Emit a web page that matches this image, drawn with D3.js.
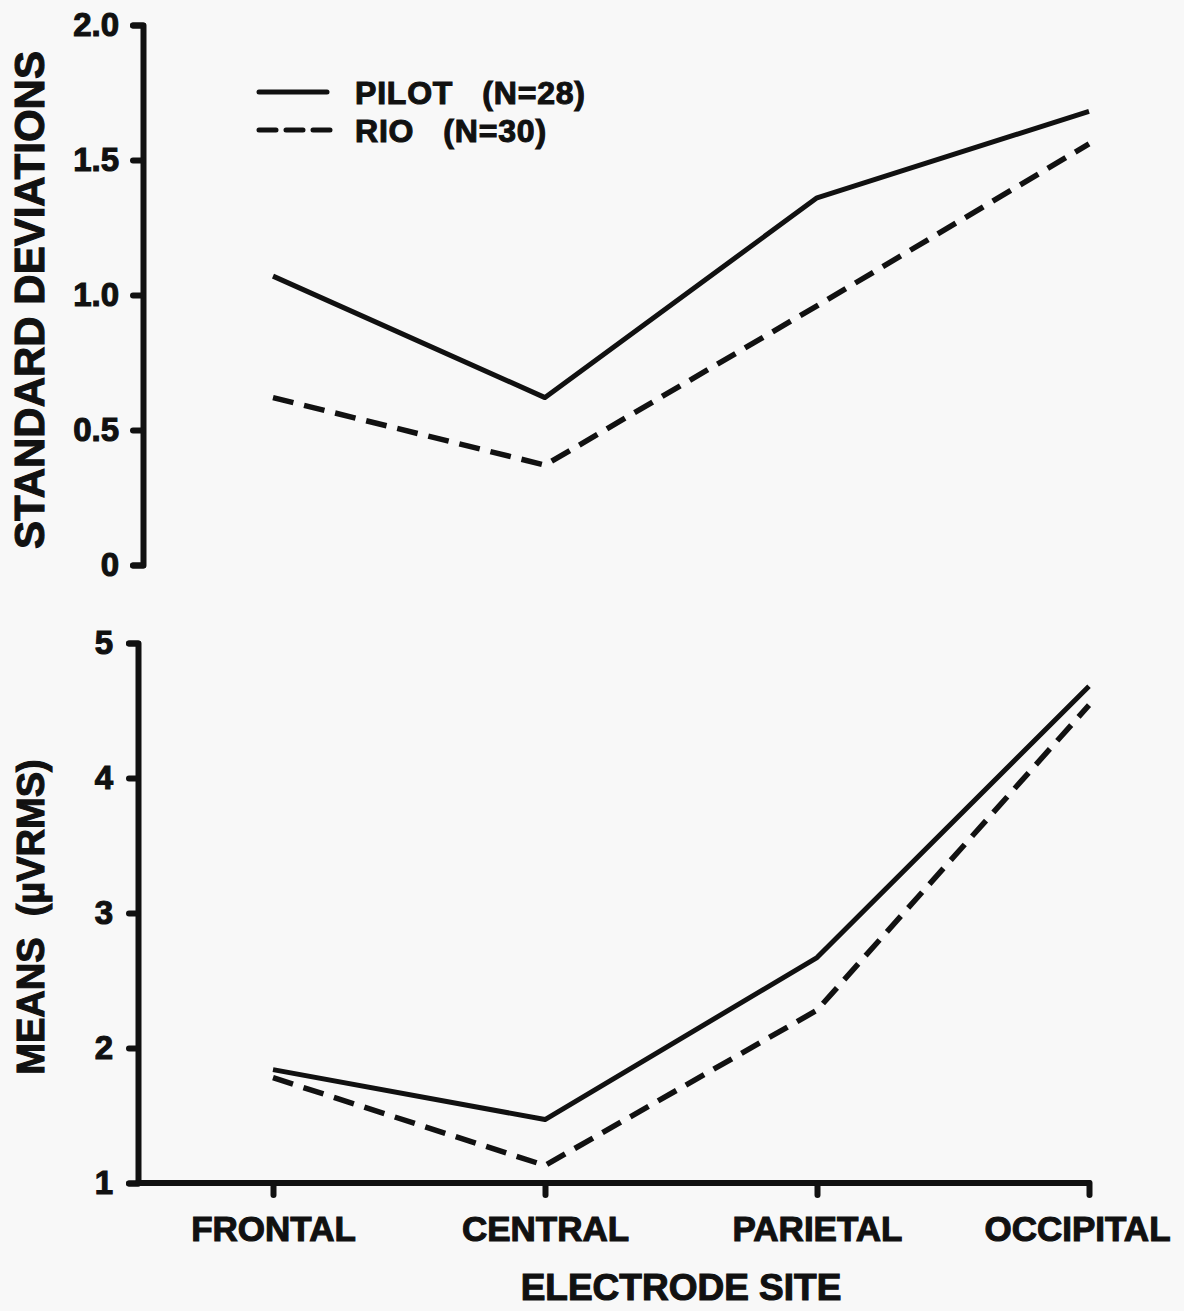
<!DOCTYPE html>
<html>
<head>
<meta charset="utf-8">
<script src="https://cdn.jsdelivr.net/npm/d3@7/dist/d3.min.js"></script>
<style>
  html, body { margin: 0; padding: 0; background: #f8f8f8; }
  svg { display: block; }
  text { font-family: "Liberation Sans", Arial, Helvetica, sans-serif; font-weight: bold; fill: #111; white-space: pre; stroke: #111; stroke-width: 1.1px; }
</style>
</head>
<body>
<script>
// ---- data ----
const categories = ["FRONTAL", "CENTRAL", "PARIETAL", "OCCIPITAL"];
const sdPilot = [1.07, 0.62, 1.36, 1.68];
const sdRio   = [0.62, 0.37, 0.96, 1.56];
const meanPilot = [1.84, 1.47, 2.67, 4.68];
const meanRio   = [1.78, 1.13, 2.28, 4.54];
const sdTicks = [0, 0.5, 1.0, 1.5, 2.0];
const sdTickLabels = ["0", "0.5", "1.0", "1.5", "2.0"];
const meanTicks = [1, 2, 3, 4, 5];
const meanTickLabels = ["1", "2", "3", "4", "5"];
const seriesNames = ["PILOT   (N=28)", "RIO   (N=30)"];
const xTitle = "ELECTRODE SITE";
const sdTitle = "STANDARD DEVIATIONS";
const meanTitle = "MEANS  (\u00B5VRMS)";

const W = 1184, H = 1311;
const ink = "#111";
const svg = d3.select("body").append("svg").attr("width", W).attr("height", H);

const x = d3.scalePoint().domain(categories).range([273, 1089]);
const ySd = d3.scaleLinear().domain([0, 2]).range([565, 25]);
const yMean = d3.scaleLinear().domain([1, 5]).range([1183, 643]);

function styleAxis(g, fs) {
  g.select(".domain").attr("stroke", ink).attr("stroke-width", 6).attr("stroke-linecap", "round").attr("stroke-linejoin", "round");
  g.selectAll(".tick line").attr("stroke", ink).attr("stroke-width", 6).attr("stroke-linecap", "round");
  g.selectAll(".tick text").attr("fill", ink).style("font-size", fs + "px").style("font-weight", "bold")
    .style("font-family", '"Liberation Sans", Arial, Helvetica, sans-serif');
}

// top axis
const gSd = svg.append("g").attr("transform", "translate(143,0)")
  .call(d3.axisLeft(ySd).tickValues(sdTicks).tickFormat((d, i) => sdTickLabels[i]).tickSize(10).tickSizeOuter(10).tickPadding(14));
styleAxis(gSd, 33);

// bottom left axis
const gMean = svg.append("g").attr("transform", "translate(138,0)")
  .call(d3.axisLeft(yMean).tickValues(meanTicks).tickFormat((d, i) => meanTickLabels[i]).tickSize(9).tickSizeOuter(9).tickPadding(16));
styleAxis(gMean, 33);

// bottom x axis
const gx = svg.append("g").attr("transform", "translate(0,1183)")
  .call(d3.axisBottom(x).tickSize(12).tickSizeOuter(0).tickPadding(16));
gx.select(".domain").attr("d", `M138,0H${x("OCCIPITAL")}`);
styleAxis(gx, 35);
gx.selectAll(".tick text").attr("dy", "0.85em").attr("dx", (d) => d === "OCCIPITAL" ? -12 : 0);

// lines
const lineSd = d3.line().x((d, i) => x(categories[i])).y(d => ySd(d));
const lineMean = d3.line().x((d, i) => x(categories[i])).y(d => yMean(d));
const dash = "21,11";

svg.append("path").attr("d", lineSd(sdPilot)).attr("fill", "none").attr("stroke", ink).attr("stroke-width", 5).attr("stroke-linejoin", "round");
svg.append("path").attr("d", lineSd(sdRio)).attr("fill", "none").attr("stroke", ink).attr("stroke-width", 5.5).attr("stroke-dasharray", dash).attr("stroke-linejoin", "round");
svg.append("path").attr("d", lineMean(meanPilot)).attr("fill", "none").attr("stroke", ink).attr("stroke-width", 5).attr("stroke-linejoin", "round");
svg.append("path").attr("d", lineMean(meanRio)).attr("fill", "none").attr("stroke", ink).attr("stroke-width", 5.5).attr("stroke-dasharray", dash).attr("stroke-linejoin", "round");

// legend
const legend = svg.append("g");
[0, 1].forEach(i => {
  const yy = 92 + i * 38;
  legend.append("line").attr("x1", 259).attr("x2", i === 0 ? 327 : 332).attr("y1", yy).attr("y2", yy)
    .attr("stroke", ink).attr("stroke-width", 5).attr("stroke-linecap", "round")
    .attr("stroke-dasharray", i === 0 ? null : "17,10");
  legend.append("text").attr("x", 355).attr("y", yy + 12).style("font-size", "32px").style("letter-spacing", "0.8px").text(seriesNames[i]);
});

// titles
svg.append("text").attr("transform", "translate(44,300) rotate(-90)").attr("text-anchor", "middle")
  .style("font-size", "42px").text(sdTitle);
svg.append("text").attr("transform", "translate(44,917) rotate(-90)").attr("text-anchor", "middle")
  .style("font-size", "38px").text(meanTitle);
svg.append("text").attr("x", 681).attr("y", 1300).attr("text-anchor", "middle")
  .style("font-size", "37px").text(xTitle);
</script>
</body>
</html>
